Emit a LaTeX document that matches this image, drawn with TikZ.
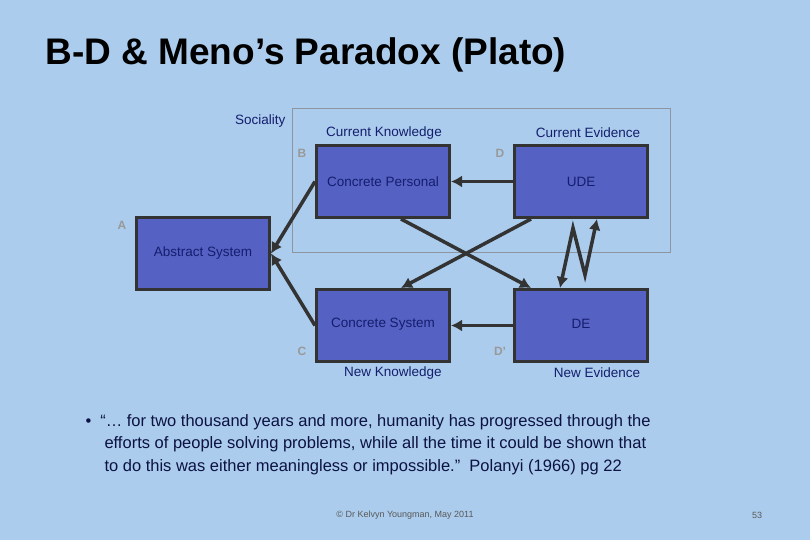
\documentclass[tikz,border=0pt]{standalone}
\usepackage{fontspec}
\setmainfont{Liberation Sans}
\begin{document}
\begin{tikzpicture}[x=1pt,y=-1pt,
  bx/.style={draw=black!80,line width=3pt,fill=boxblue,minimum width=133pt,minimum height=72pt,anchor=north west,inner sep=0pt},
  arr/.style={draw=black!80,line width=3.5pt,-{Latex[length=11pt,width=12pt]}},
  lab/.style={font=\fontsize{13.5}{16}\selectfont,text=navy},
  corner/.style={font=\fontsize{12}{14}\selectfont\bfseries,text=gray!80}]
\definecolor{bg}{RGB}{171,204,236}
\definecolor{boxblue}{RGB}{86,97,196}
\definecolor{navy}{RGB}{20,30,110}
\usetikzlibrary{arrows.meta}
\fill[bg] (0,0) rectangle (810,540);
\useasboundingbox (0,0) rectangle (810,540);
\node[anchor=west,font=\fontsize{37}{42}\selectfont\bfseries] (title) at (42,55) {B-D \& Meno’s Paradox (Plato)};
\node[draw=gray!70!bg,line width=1pt,minimum width=378pt,minimum height=144pt,anchor=north west,inner sep=0pt] (soc) at (292,108) {};
\node[lab,anchor=east] (socl) at (289,121) {Sociality};
\node[bx] (cp) at (315,144) {};
\node[lab] at (cp.center) {Concrete Personal};
\node[bx] (ude) at (513,144) {};
\node[lab] at (ude.center) {UDE};
\node[bx] (abs) at (135,216) {};
\node[lab] at (abs.center) {Abstract System};
\node[bx] (cs) at (315,288) {};
\node[lab] at ([yshift=-36pt]cs.north) {Concrete System};
\node[bx] (de) at (513,288) {};
\node[lab] at ([yshift=-36pt]de.north) {DE};
\node[lab] (ck) at (384,133) {Current Knowledge};
\node[lab] (ce) at (588,133) {Current Evidence};
\node[lab] (nk) at (393,373) {New Knowledge};
\node[lab] (ne) at (597,373) {New Evidence};
\node[corner] (lb) at (302,153) {B};
\node[corner] (ld) at (500,153) {D};
\node[corner] (la) at (122,225) {A};
\node[corner] (lc) at (302,351) {C};
\node[corner] (ld2) at (500,351) {D’};
\draw[arr] (ude.west) -- (cp.east);
\draw[arr] (de.west) -- (cs.east);
\draw[arr] (cp.west) -- (abs.east);
\draw[arr] (cs.west) -- (abs.east);
\draw[arr] ([xshift=-50pt]cp.south east) -- ([xshift=18pt]de.north west);
\draw[arr] ([xshift=18pt]ude.south west) -- ([xshift=-50pt]cs.north east);
\coordinate (z1) at (573,228);
\coordinate (z2) at (585,275);
\draw[draw=black!80,line width=3.5pt,{Latex[length=11pt,width=12pt]}-{Latex[length=11pt,width=12pt]}] ([xshift=47pt]de.north west) -- (z1) -- (z2) -- ([xshift=84pt]ude.south west);
\node[anchor=north west,align=left,font=\fontsize{16.5}{22.5}\selectfont,text=navy!60!black] (q) at (82,411)
 {•\hspace{9pt}“… for two thousand years and more, humanity has progressed through the\\
 \hspace{19pt}efforts of people solving problems, while all the time it could be shown that\\
 \hspace{19pt}to do this was either meaningless or impossible.”\ \ Polanyi (1966) pg 22};
\node[font=\fontsize{9}{10}\selectfont,text=gray!70!black] (foot) at (405,515) {© Dr Kelvyn Youngman, May 2011};
\node[font=\fontsize{9}{10}\selectfont,text=gray!70!black] (pg) at (757,515) {53};
\end{tikzpicture}
\end{document}
